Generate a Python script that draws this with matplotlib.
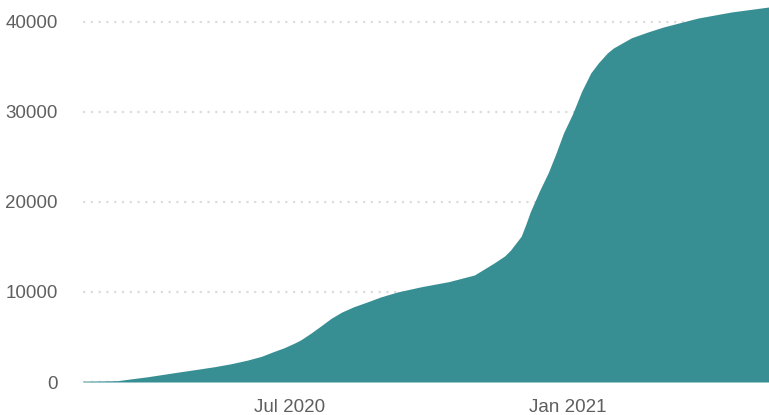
import matplotlib
matplotlib.use("Agg")
import matplotlib.pyplot as plt
import numpy as np

dates = ["2020-02-15", "2020-02-27", "2020-03-09", "2020-03-18", "2020-03-29",
         "2020-04-09", "2020-04-20", "2020-05-01", "2020-05-12", "2020-05-23",
         "2020-06-03", "2020-06-12", "2020-06-20", "2020-06-27", "2020-07-04",
         "2020-07-08", "2020-07-15", "2020-07-22", "2020-07-28", "2020-08-04",
         "2020-08-12", "2020-08-22", "2020-08-30", "2020-09-10", "2020-09-26",
         "2020-10-14", "2020-10-31", "2020-11-06", "2020-11-13", "2020-11-20",
         "2020-11-24", "2020-12-01", "2020-12-04", "2020-12-07", "2020-12-13",
         "2020-12-19", "2020-12-24", "2020-12-29", "2021-01-04", "2021-01-10",
         "2021-01-16", "2021-01-21", "2021-01-27", "2021-01-31", "2021-02-12",
         "2021-02-23", "2021-03-05", "2021-03-28", "2021-04-19", "2021-05-14"]
values = [100, 120, 150, 350, 590,
          870, 1150, 1420, 1700, 2030,
          2440, 2850, 3370, 3800, 4330,
          4670, 5450, 6300, 7050, 7750,
          8350, 8950, 9450, 10000, 10590,
          11150, 11890, 12500, 13220, 14000,
          14670, 16200, 17500, 18900, 21200,
          23300, 25400, 27670, 29800, 32300,
          34330, 35440, 36560, 37110, 38250,
          38900, 39440, 40440, 41110, 41670]
y_ticks = [0, 10000, 20000, 30000, 40000]
x_tick_dates = ["2020-07-01", "2021-01-01"]
x_tick_labels = ["Jul 2020", "Jan 2021"]

x = np.array([np.datetime64(d) for d in dates])

plt.rcParams['font.family'] = ['Liberation Sans', 'DejaVu Sans']

fig = plt.figure(figsize=(7.69, 4.15), dpi=100)
ax = fig.add_axes([83 / 769, 33 / 415, 686 / 769, 382 / 415])

ax.fill_between(x, 0, values, color="#378f93", linewidth=0, zorder=3)

ax.set_xlim(np.datetime64("2020-02-15"), np.datetime64("2021-05-14"))
ax.set_ylim(0, 42444)

ax.set_yticks(y_ticks)
ax.set_yticklabels([str(v) for v in y_ticks])
ax.set_xticks([np.datetime64(d) for d in x_tick_dates])
ax.set_xticklabels(x_tick_labels)

ax.grid(axis="y", color="#dcdcdc", linestyle=(0, (1, 2.5)), linewidth=1.6, zorder=1)
ax.grid(axis="x", visible=False)
for s in ax.spines.values():
    s.set_visible(False)
ax.tick_params(axis="both", length=0, labelsize=13.5, colors="#5f5f5f")
ax.tick_params(axis="y", pad=18)
ax.tick_params(axis="x", pad=12)

fig.savefig("out.png", dpi=100, facecolor="white")
